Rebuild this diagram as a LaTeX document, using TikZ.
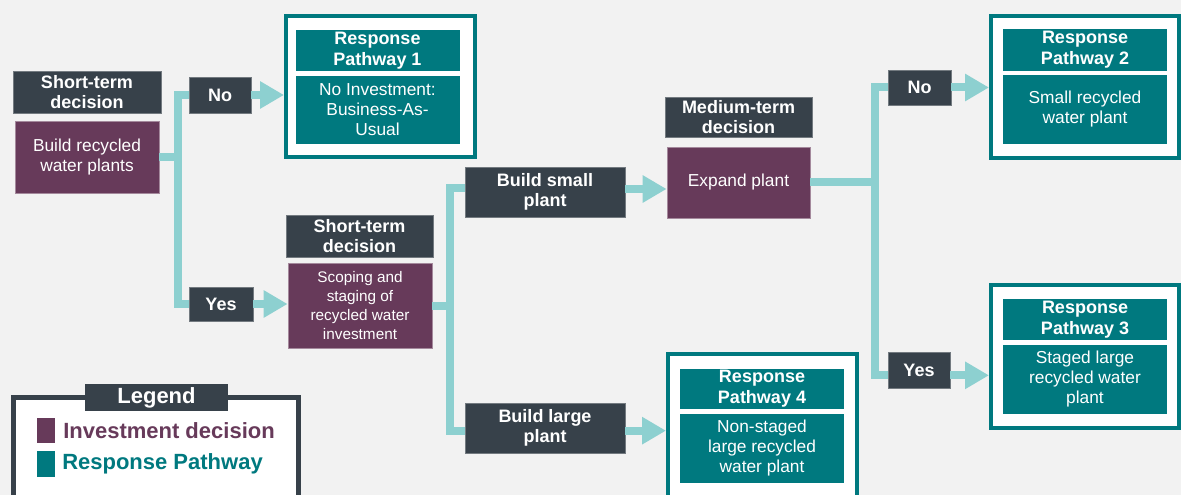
\documentclass[tikz,border=0pt]{standalone}
\usepackage{fontspec}
\setmainfont{Liberation Sans}
\usetikzlibrary{arrows.meta}
\definecolor{bgc}{HTML}{F2F2F2}
\definecolor{slate}{HTML}{37414A}
\definecolor{plum}{HTML}{673A5A}
\definecolor{tealc}{HTML}{00797F}
\definecolor{connc}{HTML}{8DD0D0}
\tikzset{
  hdr/.style={fill=slate, draw=slate!70!white, line width=0.5pt, text=white, inner sep=0pt, align=center,
    font=\fontsize{13.5}{15.5}\selectfont\bfseries},
  dec/.style={fill=plum, draw=plum!60!white, line width=0.6pt, text=white, inner sep=0pt, align=center,
    font=\fontsize{13}{15}\selectfont},
  rph/.style={fill=tealc, text=white, inner sep=0pt, align=center, minimum width=123pt,
    font=\fontsize{13.5}{15.5}\selectfont\bfseries},
  rpb/.style={fill=tealc, text=white, inner sep=0pt, align=center, minimum width=123pt,
    font=\fontsize{13}{15}\selectfont},
  frame/.style={draw=tealc, fill=white, line width=3pt, inner sep=0pt},
  conn/.style={draw=connc, line width=6pt},
  arr/.style={conn, -{Triangle[length=18pt,width=19.5pt]}},
  lgtext/.style={anchor=west, inner sep=0pt, font=\fontsize{16.5}{18}\selectfont\bfseries}
}
\begin{document}
\begin{tikzpicture}[x=0.75pt,y=-0.75pt]
\useasboundingbox (0,0) rectangle (1181,495);
\fill[bgc] (0,0) rectangle (1181,495);

% frames
\node[frame, minimum width=141.75pt, minimum height=105.75pt] (rp1f) at (380.5,86.5) {};
\node[frame, minimum width=141pt, minimum height=106.5pt] (rp2f) at (1085,87) {};
\node[frame, minimum width=141pt, minimum height=107.25pt] (rp3f) at (1085,356.5) {};
\node[frame, minimum width=141.75pt, minimum height=117pt] (rp4f) at (762.5,432) {};
\node[draw=slate, fill=white, line width=3.75pt, minimum width=213.75pt, minimum height=92pt] (lgf) at (156,458.75) {};

% first decision
\node[hdr, minimum width=111pt, minimum height=31.5pt] (hdr1) at (87,92) {Short-term\\decision};
\node[dec, minimum width=108pt, minimum height=54pt] (d1) at (87,157) {Build recycled\\water plants};
\node[hdr, minimum width=46.5pt, minimum height=27pt] (no1) at (220,95) {No};
\node[hdr, minimum width=48pt, minimum height=25.5pt] (yes1) at (221,304) {Yes};

% RP1
\node[rph, minimum height=30.75pt] (rp1h) at (377.5,50.5) {Response\\Pathway 1};
\node[rpb, minimum height=51pt] (rp1b) at (377.5,110) {No Investment:\\Business-As-\\Usual};

% second decision
\node[hdr, minimum width=110.25pt, minimum height=31.5pt] (hdr2) at (359.5,236) {Short-term\\decision};
\node[dec, minimum width=108pt, minimum height=63.75pt, font=\fontsize{11.5}{14.25}\selectfont] (d2) at (360,305.5) {Scoping and\\staging of\\recycled water\\investment};
\node[hdr, minimum width=120pt, minimum height=37.5pt] (bsmall) at (545,192) {Build small\\plant};
\node[hdr, minimum width=120pt, minimum height=37.5pt] (blarge) at (545,428) {Build large\\plant};

% medium-term decision
\node[hdr, minimum width=110.25pt, minimum height=30pt] (hdr3) at (738.5,117) {Medium-term\\decision};
\node[dec, minimum width=107.25pt, minimum height=53.25pt] (d3) at (738.5,182.5) {Expand plant};
\node[hdr, minimum width=47.25pt, minimum height=26.25pt] (no2) at (919.5,87.5) {No};
\node[hdr, minimum width=46.5pt, minimum height=27pt] (yes2) at (919,370) {Yes};

% RP4
\node[rph, minimum height=30pt] (rp4h) at (762,389) {Response\\Pathway 4};
\node[rpb, minimum height=51.75pt] (rp4b) at (762,448.5) {Non-staged\\large recycled\\water plant};

% RP2
\node[rph, minimum height=31.5pt] (rp2h) at (1085,50) {Response\\Pathway 2};
\node[rpb, minimum height=51.75pt] (rp2b) at (1085,109.5) {Small recycled\\water plant};

% RP3
\node[rph, minimum height=30.75pt] (rp3h) at (1085,319.5) {Response\\Pathway 3};
\node[rpb, minimum height=51.75pt] (rp3b) at (1085,379.5) {Staged large\\recycled water\\plant};

% connectors
\coordinate (j1) at (178,157);
\coordinate (j2) at (450,305.5);
\coordinate (j3) at (875,182.5);
\draw[conn] (d1.east) -- (j1);
\draw[conn] (no1.west) -| (j1) |- (yes1.west);
\draw[arr] (no1.east) -- (no1.east -| rp1f.west);
\draw[arr] (yes1.east) -- (yes1.east -| d2.west);

\draw[conn] (d2.east) -- (j2);
\draw[conn] ([yshift=3pt]bsmall.west) -| (j2) |- ([yshift=-2pt]blarge.west);
\draw[arr] ([yshift=2.25pt]bsmall.east) -- ([yshift=2.25pt]bsmall.east -| d3.west);
\draw[arr] ([yshift=-2pt]blarge.east) -- ([yshift=-2pt]blarge.east -| rp4f.west);

\draw[conn] (d3.east) -- (j3);
\draw[conn] (no2.west) -| (j3) |- ([yshift=-4pt]yes2.west);
\draw[arr] (no2.east) -- (no2.east -| rp2f.west);
\draw[arr] ([yshift=-4pt]yes2.east) -- ([yshift=-4pt]yes2.east -| rp3f.west);

% legend
\node[fill=slate, text=white, inner sep=0pt, minimum width=107.25pt, minimum height=20.25pt,
  font=\fontsize{16.5}{18}\selectfont\bfseries] (lgh) at (156.5,397.5) {Legend};
\node[fill=plum, inner sep=0pt, minimum width=13.5pt, minimum height=18.75pt] (sw1) at (46,430.5) {};
\node[fill=tealc, inner sep=0pt, minimum width=13.5pt, minimum height=19.5pt] (sw2) at (46,464) {};
\node[lgtext, text=plum] (lt1) at (63,431) {Investment decision};
\node[lgtext, text=tealc] (lt2) at (62,464) {Response Pathway};
\end{tikzpicture}
\end{document}
